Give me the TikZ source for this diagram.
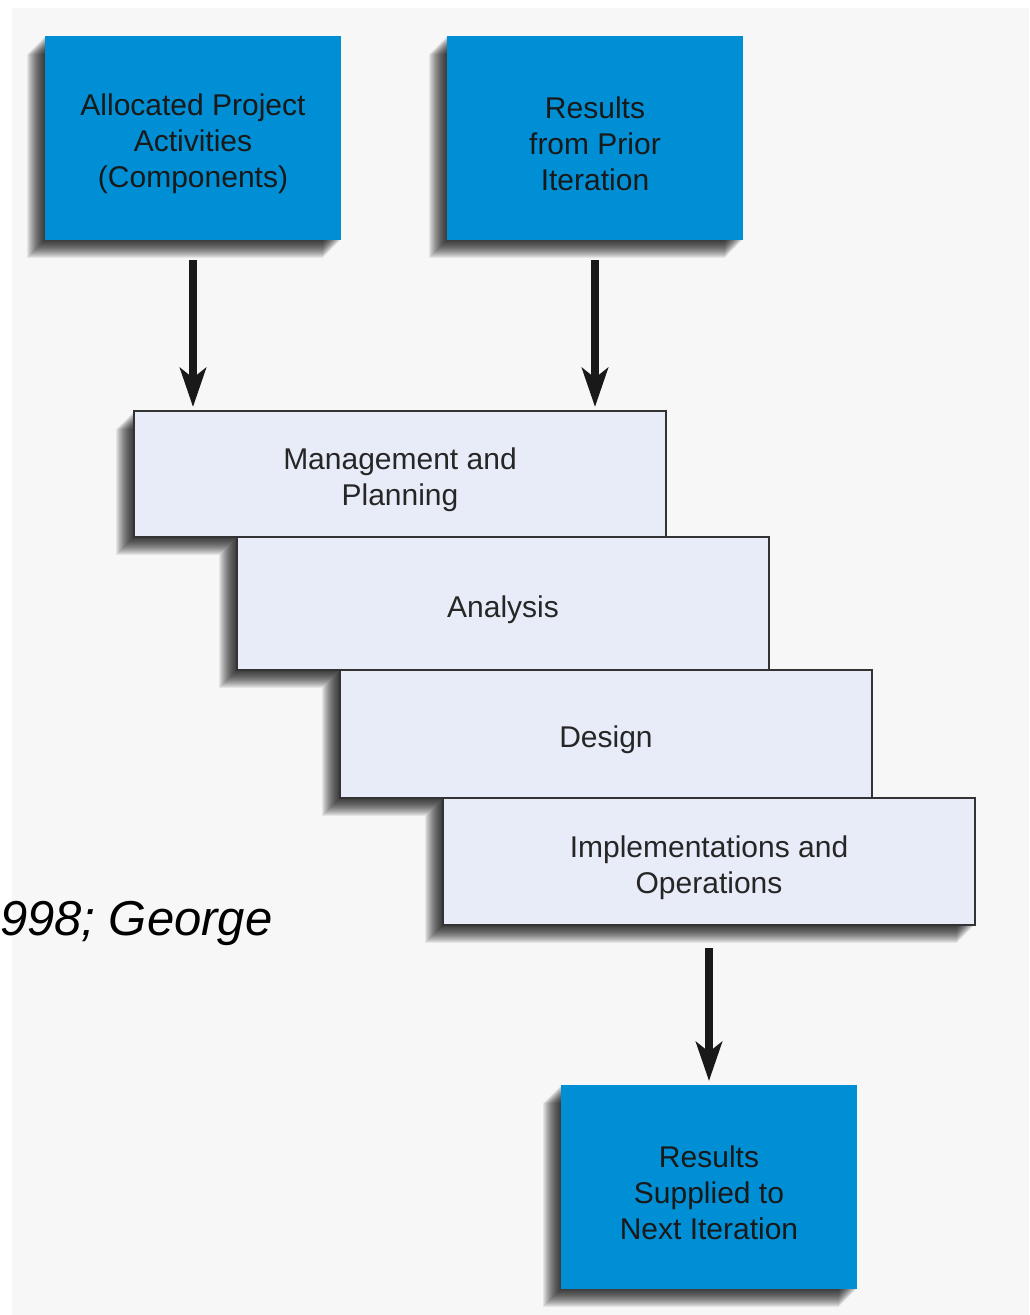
\documentclass[tikz,border=0pt]{standalone}
\usepackage{fontspec}
\setmainfont{Liberation Sans}
\usetikzlibrary{arrows.meta,positioning,calc}
\definecolor{boxblue}{RGB}{0,143,213}
\definecolor{phasefill}{RGB}{232,236,248}
\definecolor{pagegray}{RGB}{247,247,247}
\newcommand{\topstrut}{\rule{0pt}{34pt}}
\tikzset{%
    goal/.style     = {fill=boxblue, rectangle, minimum width=296pt,
        minimum height=204pt, inner sep=0pt, outer sep=0pt, align=center,
        text=black!90, font=\fontsize{30}{36}\selectfont},
    phase/.style    = {draw=black!80, line width=2pt, fill=phasefill, rectangle,
        minimum width=532pt, inner sep=0pt, outer sep=0pt, align=center,
        text=black!85, font=\fontsize{30}{36}\selectfont},
    flow/.style     = {line width=8pt, black!90, shorten >=4pt},
}
\pgfdeclarelayer{bg}
\pgfsetlayers{bg,main}

\begin{document}
\begin{tikzpicture}[x=1pt, y=-1pt, >={Stealth[length=39pt,width=26pt,inset=10pt]}]
    \useasboundingbox (0,0) rectangle (1029,1315);

    % We start by placing the blocks
    \node [goal] (alloc) at (193,138) {\topstrut Allocated Project\\Activities\\(Components)};
    \node [goal, right=106pt of alloc] (prior) {\topstrut Results\\from Prior\\Iteration};

    \node [phase, minimum height=126pt, anchor=north west] (mgmt) at (134,411) {\topstrut Management and\\Planning};
    \node [phase, minimum height=133pt, anchor=north west] (analysis) at ([xshift=103pt]mgmt.south west) {\topstrut Analysis};
    \node [phase, minimum height=128pt, anchor=north west] (design) at ([xshift=103pt]analysis.south west) {\topstrut Design};
    \node [phase, minimum height=127pt, anchor=north west] (impl) at ([xshift=103pt]design.south west) {\topstrut Implementations and\\Operations};

    \node [goal, below=160pt of impl] (next) {\topstrut Results\\Supplied to\\Next Iteration};

    \node [anchor=base east, font=\itshape\fontsize{49}{58}\selectfont] (cite) at (276,935) {998; George};

    % shadows and page go behind everything
    \begin{pgfonlayer}{bg}
        \fill [white] (0,0) rectangle (1029,1315);
        \fill [pagegray] (12,8) rectangle (1029,1315);
        \foreach \b in {alloc,prior,mgmt,analysis,design,impl,next}{
            \foreach \k in {1,...,18}{
                \fill [black, opacity=0.072] ([xshift=-\k*1pt, yshift=-\k*1pt]\b.south west)
                    rectangle ([xshift=-\k*1pt, yshift=-\k*1pt]\b.north east);
            }
        }
    \end{pgfonlayer}

    % Once the nodes are placed, connecting them is easy.
    \draw [flow, ->] ([yshift=-20pt]alloc.south) -- (alloc.south |- mgmt.north);
    \draw [flow, ->] ([yshift=-20pt]prior.south) -- (prior.south |- mgmt.north);
    \draw [flow, ->] ([yshift=-23pt]impl.south) -- (next);

\end{tikzpicture}
\end{document}
